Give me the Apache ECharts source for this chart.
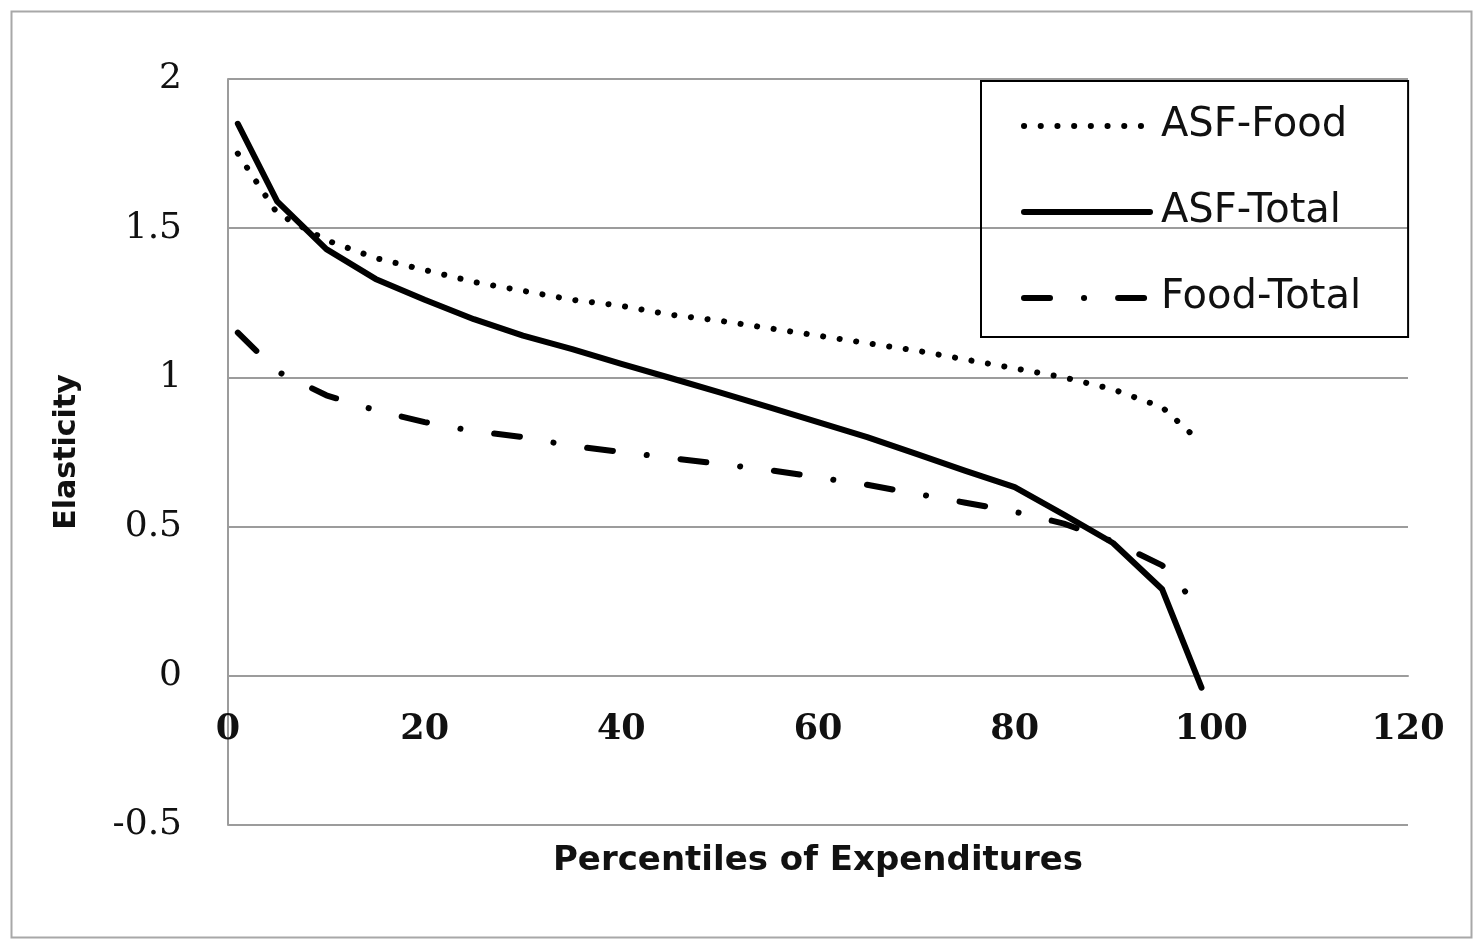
<!DOCTYPE html>
<html>
<head>
<meta charset="utf-8">
<script src="https://cdn.jsdelivr.net/npm/echarts@6/dist/echarts.min.js"></script>
<style>
  html, body { margin: 0; padding: 0; background: #fff; }
  #chart { width: 1478px; height: 942px; }
</style>
</head>
<body>
<div id="chart"></div>
<script>
// percentiles
var percentiles = [1, 5, 10, 15, 20, 25, 30, 35, 40, 45, 50, 55, 60, 65, 70, 75, 80, 85, 90, 95, 99];
// elasticities
var asfFood   = [1.75, 1.55, 1.46, 1.40, 1.36, 1.32, 1.29, 1.26, 1.24, 1.21, 1.19, 1.165, 1.14, 1.115, 1.09, 1.06, 1.03, 1.00, 0.96, 0.90, 0.78];
var asfTotal  = [1.85, 1.59, 1.43, 1.33, 1.26, 1.195, 1.14, 1.095, 1.045, 0.998, 0.95, 0.90, 0.85, 0.80, 0.744, 0.687, 0.632, 0.54, 0.445, 0.29, -0.04];
var foodTotal = [1.15, 1.02, 0.94, 0.89, 0.85, 0.82, 0.80, 0.77, 0.75, 0.73, 0.71, 0.69, 0.665, 0.64, 0.61, 0.58, 0.55, 0.51, 0.45, 0.37, 0.22];

function pairs(ys) {
  return percentiles.map(function (x, i) { return [x, ys[i]]; });
}

var chart = echarts.init(document.getElementById('chart'));
var gridGray = '#9c9c9c';
var dotted = { color: '#000', width: 6, type: [0.1, 16.6], cap: 'round' };
var solid = { color: '#000', width: 6, type: 'solid', cap: 'round', join: 'round' };
var dashDot = { color: '#000', width: 6, type: [26, 34, 0.1, 34], cap: 'round' };

chart.setOption({
  backgroundColor: '#fff',
  animation: false,
  graphic: [{
    type: 'rect',
    shape: { x: 11.5, y: 11.5, width: 1460, height: 926 },
    style: { fill: 'none', stroke: '#a8a8a8', lineWidth: 2 },
    silent: true
  }],
  grid: { left: 228, top: 79, right: 70, bottom: 117, outerBoundsMode: 'none', containLabel: false },
  legend: {
    orient: 'vertical',
    left: 981,
    top: 81,
    padding: [24, 47, 18, 40],
    borderColor: '#000',
    borderWidth: 2,
    itemWidth: 126,
    itemHeight: 20,
    itemGap: 44,
    itemStyle: { opacity: 0 },
    textStyle: { fontFamily: 'DejaVu Sans', fontSize: 40, color: '#111', lineHeight: 42, padding: [0, 0, 0, 6] },
    data: [
      { name: 'ASF-Food', lineStyle: dotted },
      { name: 'ASF-Total', lineStyle: solid },
      { name: 'Food-Total', lineStyle: dashDot }
    ]
  },
  xAxis: {
    type: 'value',
    min: 0, max: 120, interval: 20,
    // axis sits on the zero line of the y axis (0.5 step = 149px above the bottom)
    offset: -149,
    name: 'Percentiles of Expenditures',
    nameLocation: 'middle',
    nameGap: 168,
    nameTextStyle: { fontFamily: 'DejaVu Sans', fontWeight: 'bold', fontSize: 34, color: '#111' },
    axisLine: { onZero: false, lineStyle: { color: gridGray, width: 2 } },
    axisTick: { show: false },
    splitLine: { show: false },
    axisLabel: { fontFamily: 'DejaVu Serif', fontWeight: 'bold', fontSize: 35, color: '#111', margin: 36 }
  },
  yAxis: {
    type: 'value',
    min: -0.5, max: 2, interval: 0.5,
    name: 'Elasticity',
    nameLocation: 'middle',
    nameGap: 146,
    nameRotate: 90,
    nameTextStyle: { fontFamily: 'DejaVu Sans', fontWeight: 'bold', fontSize: 30, color: '#111' },
    axisLine: { show: true, onZero: false, lineStyle: { color: gridGray, width: 2 } },
    axisTick: { show: false },
    splitLine: { lineStyle: { color: gridGray, width: 2 } },
    axisLabel: { fontFamily: 'DejaVu Serif', fontSize: 36, color: '#111', margin: 46 }
  },
  series: [
    { name: 'ASF-Food', type: 'line', data: pairs(asfFood), symbol: 'none', color: '#000', lineStyle: dotted },
    { name: 'ASF-Total', type: 'line', data: pairs(asfTotal), symbol: 'none', color: '#000', lineStyle: solid },
    { name: 'Food-Total', type: 'line', data: pairs(foodTotal), symbol: 'none', color: '#000', lineStyle: dashDot }
  ]
});
</script>
</body>
</html>
